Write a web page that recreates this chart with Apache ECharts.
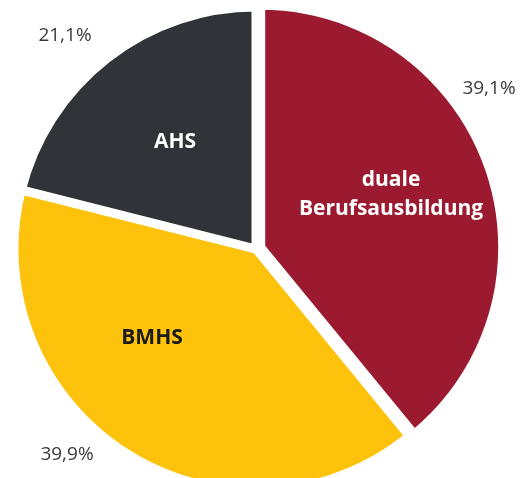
<!DOCTYPE html>
<html>
<head>
<meta charset="utf-8">
<script src="https://cdn.jsdelivr.net/npm/echarts@6/dist/echarts.min.js"></script>
<style>
  html, body { margin: 0; padding: 0; background: #ffffff; }
  #chart { width: 520px; height: 478px; }
</style>
</head>
<body>
<div id="chart"></div>
<script>
// Shares of school types (percent), clockwise from 12 o'clock
const categories = ['duale\nBerufsausbildung', 'BMHS', 'AHS'];
const shares = [39.1, 39.9, 21.1];

const sliceColors = ['#9b1a2f', '#fdc30c', '#303338'];
const nameColors = ['#ffffff', '#1a1a1a', '#ffffff'];

// Label anchor points (pixel centres)
const namePos = [[391, 195], [152, 338], [175, 142]];
const valuePos = [[489, 89], [67, 455], [65, 36]];

const center = [256, 249];
const radius = 242;

const fmtPct = v => v.toFixed(1).replace('.', ',') + '%';

// Invisible pie carrying text placed at fixed anchor points
function labelSeries(positions, labelOpt, colorOf) {
  return {
    type: 'pie',
    center: center,
    radius: radius,
    startAngle: 90,
    clockwise: true,
    silent: true,
    z: 5,
    itemStyle: { color: 'rgba(0,0,0,0)', borderWidth: 0 },
    label: Object.assign({ show: true, position: 'inside', overflow: 'none' }, labelOpt),
    labelLine: { show: false },
    labelLayout: p => ({
      x: positions[p.dataIndex][0],
      y: positions[p.dataIndex][1],
      align: 'center',
      verticalAlign: 'middle'
    }),
    emphasis: { disabled: true },
    data: categories.map((c, i) => ({
      name: c,
      value: shares[i],
      label: colorOf ? { color: colorOf(i) } : {}
    }))
  };
}

const chart = echarts.init(document.getElementById('chart'), null, { renderer: 'canvas' });

chart.setOption({
  animation: false,
  series: [
    {
      type: 'pie',
      center: center,
      radius: radius,
      startAngle: 90,
      clockwise: true,
      silent: true,
      selectedMode: 'single',
      selectedOffset: 5,
      itemStyle: { borderColor: '#ffffff', borderWidth: 9 },
      label: { show: false },
      labelLine: { show: false },
      emphasis: { disabled: true },
      data: categories.map((c, i) => ({
        name: c,
        value: shares[i],
        selected: i === 0,
        itemStyle: { color: sliceColors[i] },
        select: { itemStyle: { color: sliceColors[i] } }
      }))
    },
    labelSeries(namePos, {
      fontFamily: 'Open Sans',
      fontWeight: 'bold',
      fontSize: 21,
      lineHeight: 29,
      formatter: p => p.name
    }, i => nameColors[i]),
    labelSeries(valuePos, {
      fontFamily: 'Open Sans',
      fontSize: 19,
      color: '#3a3a3a',
      formatter: p => fmtPct(p.value)
    })
  ]
});
</script>
</body>
</html>
